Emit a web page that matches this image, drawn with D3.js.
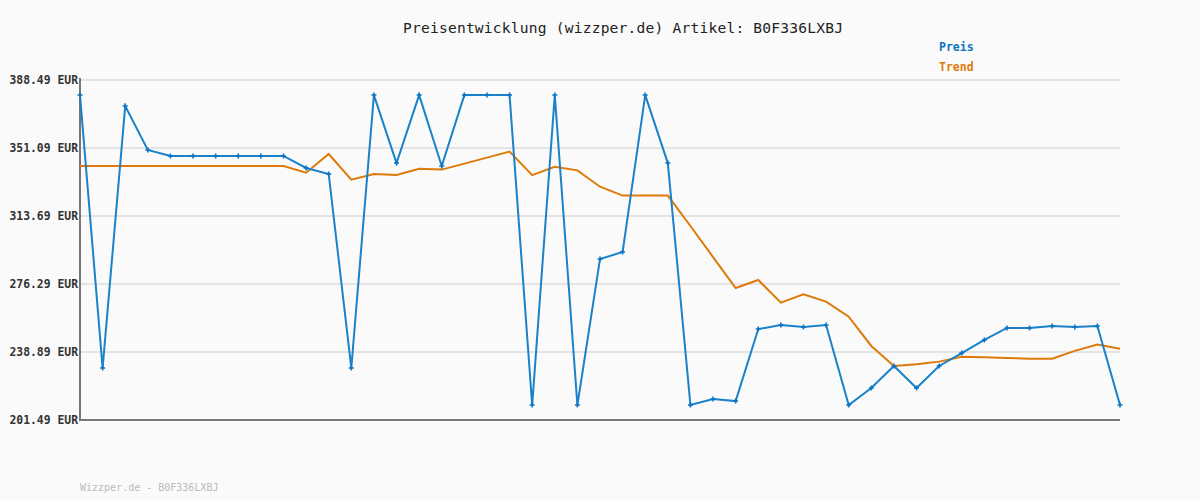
<!DOCTYPE html>
<html><head><meta charset="utf-8">
<script src="https://cdn.jsdelivr.net/npm/d3@7"></script>
<style>body{margin:0;background:#fafafa}svg{display:block}</style>
</head><body>
<svg id="c" width="1200" height="500"></svg>
<script>
const title = "Preisentwicklung (wizzper.de) Artikel: B0F336LXBJ";
const footer = "Wizzper.de - B0F336LXBJ";
const yTicks = [201.49, 238.89, 276.29, 313.69, 351.09, 388.49];
const preis = [380.2, 230.1, 374.2, 350.0, 346.7, 346.7, 346.7, 346.7, 346.7, 346.7,
  340.1, 336.8, 230.1, 380.2, 342.8, 380.2, 341.2, 380.2, 380.2, 380.2,
  209.7, 380.2, 209.7, 290.0, 293.9, 380.2, 342.8, 209.7, 213.0, 211.9,
  251.5, 253.7, 252.6, 253.7, 209.7, 219.1, 231.2, 219.1, 231.2, 238.3,
  245.5, 252.1, 252.1, 253.2, 252.6, 253.2, 209.7];
const trend = [341.2, 341.2, 341.2, 341.2, 341.2, 341.2, 341.2, 341.2, 341.2, 341.2,
  337.5, 347.8, 333.7, 336.8, 336.2, 339.7, 339.2, 342.5, 345.8, 349.1,
  336.2, 340.8, 338.8, 329.8, 324.9, 324.9, 324.9, 308.2, 291.1, 274.1,
  278.5, 266.0, 270.6, 266.6, 258.3, 242.2, 231.2, 232.1, 233.6, 236.3,
  236.0, 235.6, 235.2, 235.2, 239.5, 243.0, 240.7];

const svg = d3.select("#c");
const L = 80, R = 1120, T = 80, B = 420;
const x = d3.scaleLinear().domain([0, preis.length - 1]).range([L, R]);
const y = d3.scaleLinear().domain([201.49, 388.49]).range([B, T]);
const mono = "'DejaVu Sans Mono', monospace";

svg.append("rect").attr("width", 1200).attr("height", 500).attr("fill", "#fafafa");

// grid
svg.append("g").selectAll("line").data(yTicks.slice(1)).join("line")
  .attr("x1", L).attr("x2", R).attr("y1", d => y(d)).attr("y2", d => y(d))
  .attr("stroke", "#e4e4e4").attr("stroke-width", 2);

// y axis labels
const yAxis = d3.axisLeft(y).tickValues(yTicks).tickSize(0).tickPadding(2)
  .tickFormat(d => d.toFixed(2) + " EUR");
const ga = svg.append("g").attr("transform", `translate(${L},0)`).call(yAxis);
ga.select(".domain").remove();
ga.selectAll("text").attr("font-family", mono).attr("font-weight", "bold")
  .attr("font-size", "11.4px").attr("fill", "#333");

// axes lines
svg.append("line").attr("x1", L).attr("x2", L).attr("y1", T - 2).attr("y2", B + 1)
  .attr("stroke", "#777").attr("stroke-width", 2);
svg.append("line").attr("x1", L - 1).attr("x2", R).attr("y1", B).attr("y2", B)
  .attr("stroke", "#777").attr("stroke-width", 2);

const line = d3.line().x((d, i) => x(i)).y(d => y(d));
svg.append("path").datum(trend).attr("d", line).attr("fill", "none")
  .attr("stroke", "#dd7a0a").attr("stroke-width", 2);
svg.append("path").datum(preis).attr("d", line).attr("fill", "none")
  .attr("stroke", "#1a82c8").attr("stroke-width", 2);

// markers
svg.append("g").selectAll("path").data(preis).join("path")
  .attr("transform", (d, i) => `translate(${x(i)},${y(d)})`)
  .attr("d", "M-2.5,0H2.5M0,-2.5V2.5")
  .attr("stroke", "#0b74c4").attr("stroke-width", 1.6);

// title
svg.append("text").attr("x", 623).attr("y", 33).attr("text-anchor", "middle")
  .attr("font-family", mono).attr("font-size", "14.6px").attr("fill", "#222")
  .attr("textLength", 440).attr("lengthAdjust", "spacing")
  .text(title);

// legend
svg.append("text").attr("x", 939).attr("y", 51).attr("font-family", mono)
  .attr("font-weight", "bold").attr("font-size", "11.5px").attr("fill", "#0b74c4").text("Preis");
svg.append("text").attr("x", 939).attr("y", 71).attr("font-family", mono)
  .attr("font-weight", "bold").attr("font-size", "11.5px").attr("fill", "#dd7a0a").text("Trend");

// footer
svg.append("text").attr("x", 80).attr("y", 491).attr("font-family", mono)
  .attr("font-size", "10px").attr("fill", "#bbb").text(footer);
</script>
</body></html>
